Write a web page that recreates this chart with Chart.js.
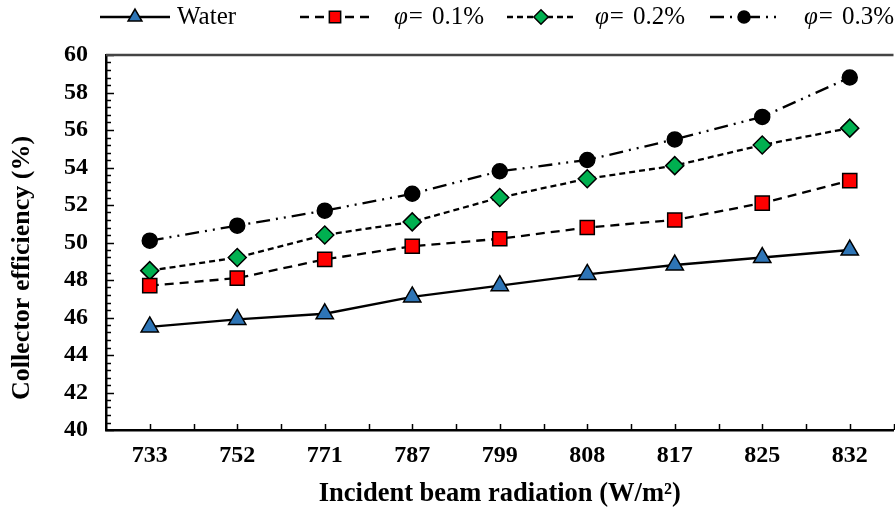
<!DOCTYPE html>
<html><head><meta charset="utf-8">
<script src="https://cdn.jsdelivr.net/npm/chart.js@4/dist/chart.umd.min.js"></script>
<style>
html,body{margin:0;padding:0;overflow:hidden;background:#fff;width:895px;height:510px}
#wrap{position:absolute;left:0;top:0;width:905px;height:510px}
</style></head><body>
<div id="wrap"><canvas id="c" width="905" height="510"></canvas></div>
<script>
// ---- data ----
const categories = ['733','752','771','787','799','808','817','825','832'];
const water = [45.5,45.9,46.2,47.1,47.7,48.3,48.8,49.2,49.6];
const phi01 = [47.7,48.1,49.1,49.8,50.2,50.8,51.2,52.1,53.3];
const phi02 = [48.5,49.2,50.4,51.1,52.4,53.4,54.1,55.2,56.1];
const phi03 = [50.1,50.9,51.7,52.6,53.8,54.4,55.5,56.7,58.8];
const seriesNames = ['Water','0.1%','0.2%','0.3%'];
const yMin = 40, yMax = 60, yStep = 2, yMinorStep = 0.4;
const xTitle = 'Incident beam radiation (W/m\u00B2)';
const yTitle = 'Collector efficiency (%)';

const SERIF = "'Liberation Serif','Times New Roman',serif";

function ds(label, data, style, color, radius, dash){
  return {label, data, pointStyle: style, pointRadius: radius, pointHoverRadius: radius,
    pointBackgroundColor: color, pointBorderColor: '#000', pointBorderWidth: 1.5,
    borderColor: '#000', borderWidth: 2.3, borderDash: dash, fill: false, tension: 0};
}

const datasets = [
  ds(seriesNames[0], water, 'triangle', '#2E75B6', 10, []),
  ds(seriesNames[1], phi01, 'rect', '#FF0000', 10, [9,6]),
  ds(seriesNames[2], phi02, 'rectRot', '#00B050', 9, [6,4]),
  ds(seriesNames[3], phi03, 'circle', '#000000', 7.5, [14,6,2,6,2,6])
];

const ticksPlugin = {
  id: 'ticksAndFrame',
  afterDraw(chart){
    const ctx = chart.ctx, ca = chart.chartArea;
    const y = chart.scales.y, x = chart.scales.x;
    ctx.save();
    ctx.strokeStyle = '#000'; ctx.lineWidth = 1.5;
    const n = Math.round((yMax - yMin) / yMinorStep);
    for (let i = 0; i <= n; i++){
      const v = yMin + i * yMinorStep;
      const py = Math.round(y.getPixelForValue(v)) + 0.5;
      const major = Math.abs(v / yStep - Math.round(v / yStep)) < 1e-6;
      ctx.beginPath(); ctx.moveTo(ca.left, py); ctx.lineTo(ca.left + (major ? 8 : 5), py); ctx.stroke();
    }
    for (let i = 0; i < categories.length; i++){
      const c = x.getPixelForValue(i);
      const half = (x.getPixelForValue(1) - x.getPixelForValue(0)) / 2;
      [c, c + half].forEach(px => {
        px = Math.round(px) + 0.5;
        ctx.beginPath(); ctx.moveTo(px, ca.bottom); ctx.lineTo(px, ca.bottom - 6); ctx.stroke();
      });
    }
    ctx.strokeStyle = '#444'; ctx.lineWidth = 2.5;
    ctx.beginPath(); ctx.moveTo(ca.left, ca.top); ctx.lineTo(ca.right, ca.top); ctx.stroke();
    // y-axis title (placed like the reference, slightly below the axis centre)
    ctx.translate(22, 268);
    ctx.rotate(-Math.PI / 2);
    ctx.fillStyle = '#000'; ctx.textAlign = 'center'; ctx.textBaseline = 'middle';
    ctx.font = "bold 26px " + SERIF;
    ctx.fillText(yTitle, 0, 0);
    ctx.restore();
  }
};

const legendPlugin = {
  id: 'customLegend',
  afterDraw(chart){
    const ctx = chart.ctx;
    const items = [
      {x0: 100, x1: 170, tx: 177},
      {x0: 300, x1: 370, tx: 394},
      {x0: 507, x1: 575, tx: 595},
      {x0: 710, x1: 778, tx: 804}
    ];
    const yc = 17;
    chart.data.datasets.forEach((d, i) => {
      const it = items[i];
      ctx.save();
      ctx.strokeStyle = '#000'; ctx.lineWidth = 2.6;
      ctx.setLineDash(d.borderDash || []);
      ctx.beginPath(); ctx.moveTo(it.x0, yc); ctx.lineTo(it.x1, yc); ctx.stroke();
      ctx.setLineDash([]);
      ctx.fillStyle = d.pointBackgroundColor; ctx.strokeStyle = '#000'; ctx.lineWidth = 1.5;
      Chart.helpers.drawPoint(ctx, {pointStyle: d.pointStyle, radius: d.pointRadius * 0.8, borderWidth: 1.5, rotation: 0}, (it.x0 + it.x1) / 2, yc);
      ctx.fillStyle = '#000'; ctx.textBaseline = 'middle'; ctx.textAlign = 'left';
      if (i === 0){
        ctx.font = "25px " + SERIF;
        ctx.fillText(d.label, it.tx, yc);
      } else {
        ctx.font = "italic 25px " + SERIF;
        ctx.fillText('\u03C6', it.tx, yc);
        const w = ctx.measureText('\u03C6').width;
        ctx.font = "25px " + SERIF;
        ctx.fillText('=', it.tx + w + 1, yc);
        ctx.fillText(d.label, it.tx + 38, yc);
      }
      ctx.restore();
    });
  }
};

new Chart(document.getElementById('c'), {
  type: 'line',
  data: { labels: categories, datasets },
  plugins: [ticksPlugin, legendPlugin],
  options: {
    responsive: false, devicePixelRatio: 1, animation: false,
    layout: { padding: { top: 55, left: 0, right: 1, bottom: 0 } },
    plugins: { legend: { display: false }, tooltip: { enabled: false } },
    scales: {
      x: {
        type: 'category', offset: true,
        grid: { display: false, drawTicks: false, offset: true },
        border: { display: true, color: '#000', width: 2.5 },
        ticks: { color: '#000', padding: 11, maxRotation: 0, autoSkip: false,
          font: { family: SERIF, size: 24, weight: 'bold' } },
        title: { display: true, text: xTitle, color: '#000', padding: { top: 0, bottom: 0 },
          font: { family: SERIF, size: 26.5, weight: 'bold' } },
        afterFit(s){ s.height = 80; }
      },
      y: {
        min: yMin, max: yMax,
        grid: { display: false, drawTicks: false },
        border: { display: true, color: '#000', width: 2.5 },
        ticks: { stepSize: yStep, color: '#000', padding: 18,
          font: { family: SERIF, size: 24, weight: 'bold' } },
        title: { display: false },
        afterFit(s){ s.width = 106; }
      }
    }
  }
});
</script>
</body></html>
